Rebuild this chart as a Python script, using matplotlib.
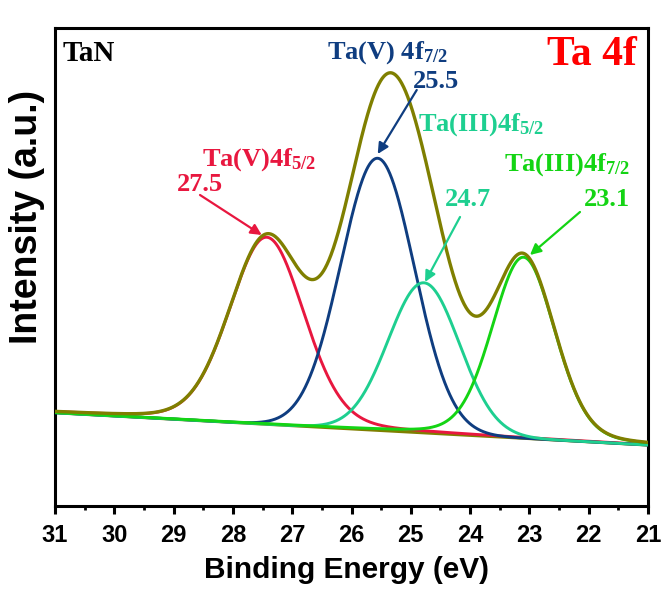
import numpy as np
import matplotlib
matplotlib.use("Agg")
import matplotlib.pyplot as plt
from matplotlib.ticker import MultipleLocator

# ---- data ----
peak_names = ["Ta(V)4f5/2", "Ta(V)4f7/2", "Ta(III)4f5/2", "Ta(III)4f7/2"]
peak_centers = [27.43, 25.56, 24.78, 23.10]
peak_amplitudes = [187, 272, 150, 181]
peak_sigmas = [0.63, 0.62, 0.60, 0.53]
peak_lorentz_frac = [0.15, 0.0, 0.0, 0.15]
peak_colors = ["#E8173F", "#0F3D80", "#1ECF90", "#14D414"]
baseline_x = [31.0, 21.0]
baseline_y = [93.3, 61.0]
label_values = ["27.5", "25.5", "24.7", "23.1"]
x_ticks = [31, 30, 29, 28, 27, 26, 25, 24, 23, 22, 21]

plt.rcParams['mathtext.fontset'] = 'custom'
plt.rcParams['mathtext.rm'] = 'Liberation Serif:bold'
plt.rcParams['mathtext.bf'] = 'Liberation Serif:bold'
plt.rcParams['mathtext.it'] = 'Liberation Serif:bold'

fig = plt.figure(figsize=(6.67, 5.92), dpi=100)
ax = fig.add_axes([0.0825, 0.1453, 0.889, 0.8074])

x = np.linspace(31, 21, 1200)
base = np.interp(x, baseline_x[::-1], baseline_y[::-1])
comps = []
for c, a, s, eta in zip(peak_centers, peak_amplitudes, peak_sigmas, peak_lorentz_frac):
    g = np.exp(-(x - c) ** 2 / (2 * s ** 2))
    hw = s * np.sqrt(2 * np.log(2))
    l = 1.0 / (1.0 + ((x - c) / hw) ** 2)
    comps.append(a * ((1 - eta) * g + eta * l))
olive = "#7F7F00"
ax.plot(x, base, color=olive, lw=2.3, zorder=2)
for comp, col in zip(comps, peak_colors):
    ax.plot(x, base + comp, color=col, lw=2.1, zorder=3)
ax.plot(x, base + np.sum(comps, axis=0), color=olive, lw=2.4, zorder=4)

ax.set_xlim(31, 21)
ax.set_ylim(0, 478)
ax.set_xticks(x_ticks)
ax.xaxis.set_minor_locator(MultipleLocator(0.5))
ax.set_yticks([])
ax.tick_params(axis='x', which='major', direction='out', length=6, width=2.2, pad=7)
ax.tick_params(axis='x', which='minor', direction='out', length=3, width=2.0)
for lab in ax.get_xticklabels():
    lab.set_fontfamily('Liberation Sans')
    lab.set_fontweight('bold')
    lab.set_fontsize(17)
for sp in ax.spines.values():
    sp.set_linewidth(2.2)

fig.text(346 / 667, 1 - 570 / 592, "Binding Energy (eV)", fontfamily='Liberation Sans',
         fontweight='bold', fontsize=21.5, ha='center', va='center')
fig.text(27.5 / 667, 1 - 217 / 592, "Intensity (a.u.)", fontfamily='Liberation Sans',
         fontweight='bold', fontsize=27, ha='center', va='center', rotation=90)

serif = dict(fontfamily='Liberation Serif', fontweight='bold', fontsize=19,
             ha='center', va='center')

ax.text(30.88, 453, "TaN", fontfamily='Liberation Serif', fontweight='bold',
        fontsize=21, ha='left', va='center', color='black')
ax.text(21.19, 451, "Ta 4f", fontfamily='Liberation Serif', fontweight='bold',
        fontsize=30, ha='right', va='center', color='#FF0000')

# peak labels
ax.text(27.56, 346, r"Ta(V)4f$_{\mathbf{5/2}}$", color=peak_colors[0], **serif)
ax.text(28.56, 321, label_values[0], color=peak_colors[0], **serif)
ax.text(25.40, 453, r"Ta(V) 4f$_{\mathbf{7/2}}$", color=peak_colors[1], **serif)
ax.text(24.58, 424, label_values[1], color=peak_colors[1], **serif)
ax.text(23.81, 381, r"Ta(III)4f$_{\mathbf{5/2}}$", color=peak_colors[2], **serif)
ax.text(24.03, 306, label_values[2], color=peak_colors[2], **serif)
ax.text(22.36, 341, r"Ta(III)4f$_{\mathbf{7/2}}$", color=peak_colors[3], **serif)
ax.text(21.70, 306, label_values[3], color=peak_colors[3], **serif)

arrows = [((28.555, 311), (27.514, 271)),
          ((24.90, 416), (25.558, 352)),
          ((24.17, 289), (24.76, 224)),
          ((22.147, 294), (22.99, 251))]
for (start, end), col in zip(arrows, peak_colors):
    ax.annotate("", xy=end, xytext=start,
                arrowprops=dict(arrowstyle='-|>', color=col, lw=1.6,
                                mutation_scale=16, shrinkA=0, shrinkB=0),
                zorder=6)

fig.savefig("out.png", dpi=100)
